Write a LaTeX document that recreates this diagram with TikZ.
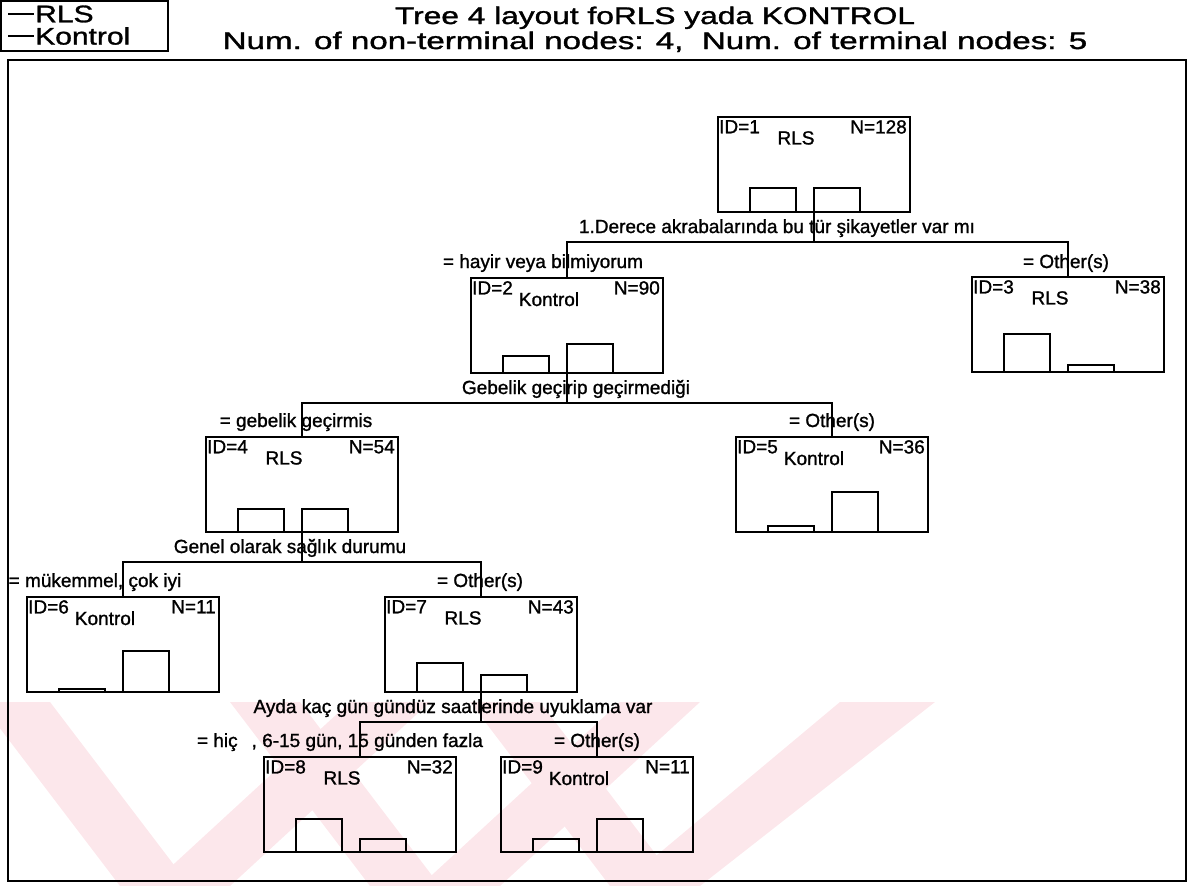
\documentclass[tikz,border=0pt]{standalone}
\usepackage{fontspec}
\setmainfont{Liberation Sans}[FakeBold=1.2]
\newcommand{\setfs}[1]{\fontsize{#1}{#1}\selectfont}
\definecolor{wmpink}{RGB}{252,231,235}
% one tree node: name, left, top, id, class, N, bar1 height, bar2 height
\newcommand{\treenode}[8]{%
  \node[box] (#1) at (#2,#3) {};
  \node[txt, anchor=north west] (#1id) at ([shift={(1,3)}]#1.north west) {ID=#4};
  \node[txt, anchor=north] (#1cl) at ([shift={(78,14)}]#1.north west) {#5};
  \node[txt, anchor=north east] (#1n) at ([shift={(-3,3)}]#1.north east) {N=#6};
  \draw[bar] ([xshift=32pt]#1.south west) rectangle ++(46,-#7);
  \draw[bar] (#1.south) rectangle ++(46,-#8);
}
\begin{document}
\begin{tikzpicture}[x=1pt,y=-1pt,
  box/.style={draw, line width=1.7pt, minimum width=192pt, minimum height=95pt,
    inner sep=0pt, outer sep=0pt, anchor=north west},
  bar/.style={draw, line width=1.6pt},
  link/.style={draw, line width=1.6pt},
  txt/.style={inner sep=0pt, font=\setfs{19}},
  lab/.style={inner sep=0pt, anchor=base, font=\setfs{19}},
  head/.style={inner sep=0pt, anchor=base, font=\setfs{24}},
  legtxt/.style={inner sep=0pt, anchor=west, font=\setfs{24}, xscale=1.25},
  wm/.style={fill=wmpink}
]
\useasboundingbox (0,0) rectangle (1195,886);

% faint diagonal bands along the bottom
\begin{scope}
  \clip (0,702) rectangle (1195,886);
  \fill[wm] (-20,702) -- (50,702) -- (190,886) -- (120,886) -- cycle;
  \fill[wm] (230,702) -- (300,702) -- (440,886) -- (370,886) -- cycle;
  \fill[wm] (470,702) -- (540,702) -- (680,886) -- (610,886) -- cycle;
  \fill[wm] (150,886) -- (230,886) -- (430,702) -- (350,702) -- cycle;
  \fill[wm] (420,886) -- (500,886) -- (700,702) -- (620,702) -- cycle;
  \fill[wm] (620,886) -- (700,886) -- (935,702) -- (840,702) -- cycle;
\end{scope}

% legend
\node[draw, line width=1.3pt, minimum width=167pt, minimum height=50pt, inner sep=0pt,
  outer sep=0pt, anchor=north west] (legend) at (1,1) {};
\coordinate (l1a) at (8,14);
\coordinate (l1b) at (34,14);
\coordinate (l2a) at (8,36);
\coordinate (l2b) at (34,36);
\draw[line width=1.2pt] (l1a) -- (l1b);
\draw[line width=1.2pt] (l2a) -- (l2b);
\node[legtxt] (legrls) at (35,14) {RLS};
\node[legtxt] (legkon) at (35,36) {Kontrol};

% headings
\node[head, xscale=1.32] (title) at (655,24) {Tree 4 layout foRLS yada KONTROL};
\node[head, xscale=1.38] (subtitle) at (655,49) {Num. of non-terminal nodes: 4,\ \ Num. of terminal nodes: 5};

% frame around the tree
\node[draw, line width=1.3pt, minimum width=1178pt, minimum height=821pt, inner sep=0pt,
  outer sep=0pt, anchor=north west] (frame) at (8,60) {};

% nodes
\treenode{n1}{718}{117}{1}{RLS}{128}{24}{24}
\treenode{n2}{471}{278}{2}{Kontrol}{90}{17}{29}
\treenode{n3}{972}{277}{3}{RLS}{38}{38}{7}
\treenode{n4}{206}{437}{4}{RLS}{54}{23}{23}
\treenode{n5}{736}{437}{5}{Kontrol}{36}{6}{40}
\treenode{n6}{27}{597}{6}{Kontrol}{11}{3}{41}
\treenode{n7}{385}{597}{7}{RLS}{43}{29}{17}
\treenode{n8}{264}{757}{8}{RLS}{32}{33}{13}
\treenode{n9}{501}{757}{9}{Kontrol}{11}{13}{33}

% split questions
\node[lab] (q1) at (777,233) {1.Derece akrabalarında bu tür şikayetler var mı};
\node[lab] (q2) at (576,394) {Gebelik geçirip geçirmediği};
\node[lab] (q4) at (290,553) {Genel olarak sağlık durumu};
\node[lab] (q7) at (453,713) {Ayda kaç gün gündüz saatlerinde uyuklama var};

% branch conditions
\node[lab] (c2) at (543,268) {= hayir veya bilmiyorum};
\node[lab] (c3) at (1066,268) {= Other(s)};
\node[lab] (c4) at (296,427) {= gebelik geçirmis};
\node[lab] (c5) at (832,427) {= Other(s)};
\node[lab] (c6) at (95,587) {= mükemmel, çok iyi};
\node[lab] (c7) at (480,587) {= Other(s)};
\node[lab] (c8) at (340,747) {= hiç\hspace{14pt}, 6-15 gün, 15 günden fazla};
\node[lab] (c9) at (597,747) {= Other(s)};

% connectors
\draw[link] (n1.south) -- ++(0,30) -| (n2.north);
\draw[link] (n1.south) -- ++(0,30) -| (n3.north);
\draw[link] (n2.south) -- ++(0,30) -| (n4.north);
\draw[link] (n2.south) -- ++(0,30) -| (n5.north);
\draw[link] (n4.south) -- ++(0,30) -| (n6.north);
\draw[link] (n4.south) -- ++(0,30) -| (n7.north);
\draw[link] (n7.south) -- ++(0,30) -| (n8.north);
\draw[link] (n7.south) -- ++(0,30) -| (n9.north);
\end{tikzpicture}
\end{document}
